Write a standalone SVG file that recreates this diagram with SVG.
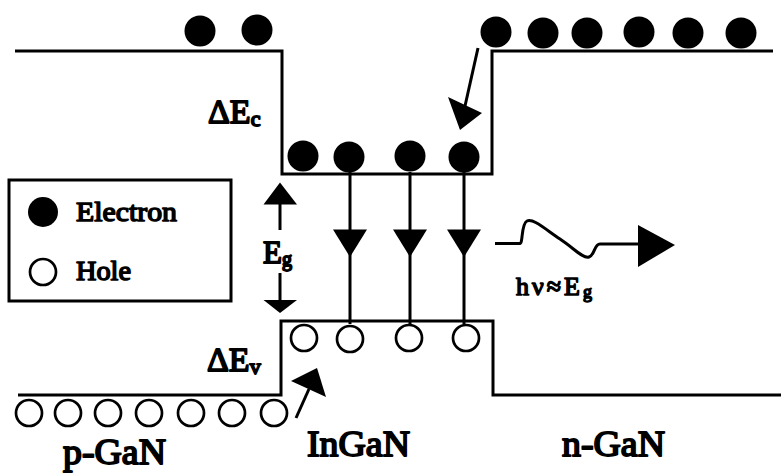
<svg xmlns="http://www.w3.org/2000/svg" width="781" height="474" viewBox="0 0 781 474">
<style>
.band{fill:none;stroke:#000;stroke-width:3}
.ln{fill:none;stroke:#000;stroke-width:3}
.head{fill:#000;stroke:none}
.el{fill:#000;stroke:none}
.hole{fill:#fff;stroke:#000;stroke-width:2.7}
.t{font-family:'Liberation Serif','Times New Roman',serif;font-weight:normal;fill:#000;stroke:#000;stroke-width:1.8;stroke-linejoin:round}
.s{stroke-width:1.5}
</style>
<rect width="781" height="474" fill="#fff"/>
<g id="bands">
<polyline class="band" points="15,51 282,51 282,174 492,174 492,51 773,51"/>
<polyline class="band" points="18,395 281,395 281,321 493,321 493,395 781,395"/>
</g>
<g id="electrons">
<circle class="el" cx="200" cy="31" r="15.5"/>
<circle class="el" cx="257" cy="30" r="15.5"/>
<circle class="el" cx="303" cy="156" r="15.5"/>
<circle class="el" cx="349" cy="157" r="15.5"/>
<circle class="el" cx="410" cy="156" r="15.5"/>
<circle class="el" cx="464" cy="157" r="15.5"/>
<circle class="el" cx="496" cy="32" r="15.5"/>
<circle class="el" cx="543" cy="33" r="15.5"/>
<circle class="el" cx="587" cy="33" r="15.5"/>
<circle class="el" cx="639" cy="32" r="15.5"/>
<circle class="el" cx="688" cy="33" r="15.5"/>
<circle class="el" cx="741" cy="33" r="15.5"/>
</g>
<g id="holes">
<circle class="hole" cx="304" cy="338" r="13"/>
<circle class="hole" cx="350" cy="339" r="13"/>
<circle class="hole" cx="409" cy="338" r="13"/>
<circle class="hole" cx="466" cy="338" r="13"/>
<circle class="hole" cx="29" cy="413" r="13"/>
<circle class="hole" cx="68" cy="413" r="13"/>
<circle class="hole" cx="108" cy="413" r="13"/>
<circle class="hole" cx="149" cy="413" r="13"/>
<circle class="hole" cx="191" cy="413" r="13"/>
<circle class="hole" cx="232" cy="413" r="13"/>
<circle class="hole" cx="274" cy="413" r="13"/>
</g>
<g id="legend">
<rect x="9" y="180" width="222" height="121" fill="none" stroke="#000" stroke-width="3"/>
<circle class="el" cx="43" cy="212" r="15"/>
<text class="t s" x="76" y="221" font-size="28" textLength="101" lengthAdjust="spacingAndGlyphs">Electron</text>
<circle class="hole" cx="43" cy="272" r="13"/>
<text class="t s" x="76" y="280" font-size="28" textLength="55" lengthAdjust="spacingAndGlyphs">Hole</text>
</g>
<g id="connectors">
<line class="ln" x1="280" y1="203" x2="280" y2="230"/>
<polygon class="head" points="280,182.5 263.5,204.5 297,204.5"/>
<line class="ln" x1="280" y1="273" x2="280" y2="301"/>
<polygon class="head" points="263.5,300 297,300 280,313"/>
<line class="ln" x1="350" y1="172" x2="350" y2="324"/>
<polygon class="head" points="333,229.5 367,229.5 350,257"/>
<line class="ln" x1="410" y1="172" x2="410" y2="324"/>
<polygon class="head" points="393,229.5 427,229.5 410,257"/>
<line class="ln" x1="464" y1="172" x2="464" y2="324"/>
<polygon class="head" points="447,229.5 481,229.5 464,257"/>
<line class="ln" x1="478" y1="48" x2="465" y2="106"/>
<polygon class="head" points="448,97 482,113 460,130"/>
<line class="ln" x1="296" y1="418" x2="309" y2="389"/>
<polygon class="head" points="291,381 326,397 317,368"/>
<path class="ln" d="M495,243.5 H520 C523,243.5 521,224 527,221 C533,218 545,229 560,239 C575,249 583,259 589,257 C595,255 594,244 600,244 H640"/>
<polygon class="head" points="638,225 638,267 675,245"/>
</g>
<g id="labels">
<text class="t" x="208" y="123" font-size="34">ΔE<tspan font-size="22" dy="3">c</tspan></text>
<text class="t" x="207" y="371" font-size="34">ΔE<tspan font-size="22" dy="3">v</tspan></text>
<text class="t" x="263" y="263" font-size="31">E<tspan font-size="20" dy="3">g</tspan></text>
<text class="t s" x="516" y="295" font-size="26" letter-spacing="3">hν≈E<tspan font-size="18" dy="3" letter-spacing="0">g</tspan></text>
<text class="t" x="63" y="464" font-size="35" textLength="103" lengthAdjust="spacingAndGlyphs">p-GaN</text>
<text class="t" x="307" y="456" font-size="35" textLength="103" lengthAdjust="spacingAndGlyphs">InGaN</text>
<text class="t" x="562" y="456" font-size="35" textLength="103" lengthAdjust="spacingAndGlyphs">n-GaN</text>
</g>
</svg>
